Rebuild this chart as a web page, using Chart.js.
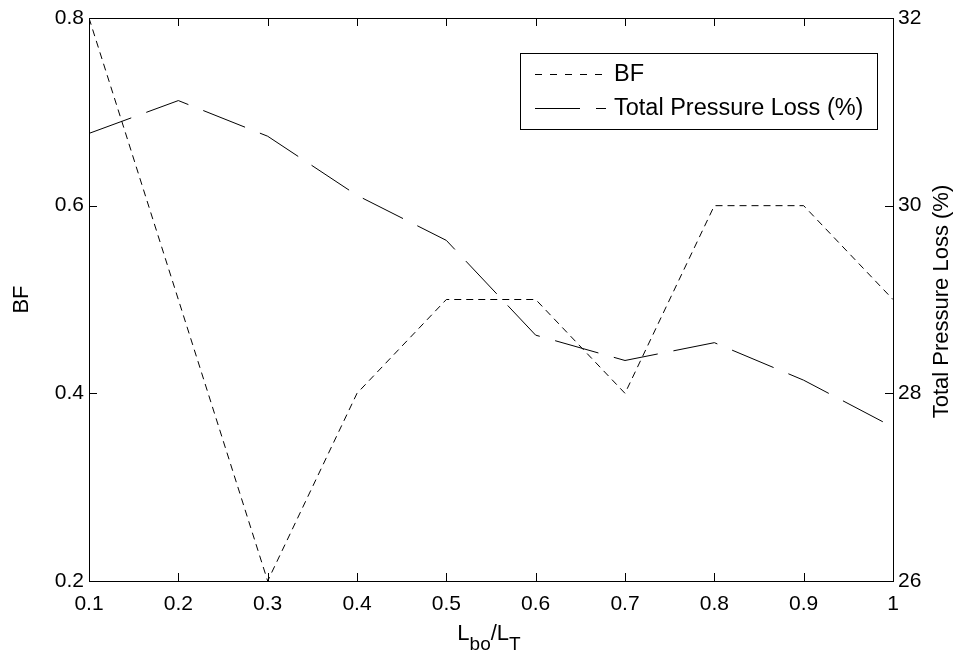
<!DOCTYPE html>
<html><head><meta charset="utf-8">
<script src="https://cdn.jsdelivr.net/npm/chart.js@4/dist/chart.umd.min.js"></script>
<style>html,body{margin:0;padding:0;background:#fff;overflow:hidden}#wrap{width:956px;height:651px;position:relative}</style>
</head><body><div id="wrap"><canvas id="c" width="956" height="651"></canvas></div>
<script>
const xValues = [0.1, 0.2, 0.3, 0.4, 0.5, 0.6, 0.7, 0.8, 0.9, 1.0];
const bfValues = [0.8, 0.5, 0.2, 0.4, 0.5, 0.5, 0.4, 0.6, 0.6, 0.5];
const pressureLoss = [30.77, 31.12, 30.74, 30.11, 29.63, 28.62, 28.35, 28.54, 28.14, 27.64];
const xTicks = [0.1, 0.2, 0.3, 0.4, 0.5, 0.6, 0.7, 0.8, 0.9, 1.0];
const bfTicks = [0.2, 0.4, 0.6, 0.8];
const plTicks = [26, 28, 30, 32];
const seriesNames = ['BF', 'Total Pressure Loss (%)'];
const yLeftTitle = 'BF';
const yRightTitle = 'Total Pressure Loss (%)';

const FONT = '"Liberation Sans", Arial, Helvetica, sans-serif';
const TICK_FONT = 21;
const LABEL_FONT = 22;
const LEGEND_FONT = 23.5;
const BF_DASH = [7, 5];
const PL_DASH = [45, 16];

function setTicks(arr) {
  return function (scale) { scale.ticks = arr.map(v => ({ value: v })); };
}

const decor = {
  id: 'decor',
  afterDatasetsDraw(chart) {
    const ctx = chart.ctx;
    const a = chart.chartArea;
    const xs = chart.scales.x, yl = chart.scales.y, yr = chart.scales.y1;
    ctx.save();
    ctx.strokeStyle = '#000';
    ctx.lineWidth = 1;
    ctx.setLineDash([]);
    // box
    ctx.strokeRect(Math.round(a.left) + 0.5, Math.round(a.top) + 0.5,
      Math.round(a.right - a.left), Math.round(a.bottom - a.top));
    const TL = 8;
    ctx.beginPath();
    xTicks.forEach(v => {
      const px = Math.round(xs.getPixelForValue(v)) + 0.5;
      ctx.moveTo(px, a.bottom); ctx.lineTo(px, a.bottom - TL);
      ctx.moveTo(px, a.top); ctx.lineTo(px, a.top + TL);
    });
    bfTicks.forEach(v => {
      const py = Math.round(yl.getPixelForValue(v)) + 0.5;
      ctx.moveTo(a.left, py); ctx.lineTo(a.left + TL, py);
    });
    plTicks.forEach(v => {
      const py = Math.round(yr.getPixelForValue(v)) + 0.5;
      ctx.moveTo(a.right, py); ctx.lineTo(a.right - TL, py);
    });
    ctx.stroke();

    // axis titles
    ctx.fillStyle = '#000';
    ctx.font = LABEL_FONT + 'px ' + FONT;
    ctx.textAlign = 'center';
    ctx.textBaseline = 'middle';
    ctx.save();
    ctx.translate(22, (a.top + a.bottom) / 2);
    ctx.rotate(-Math.PI / 2);
    ctx.fillText(yLeftTitle, 0, 0);
    ctx.restore();
    ctx.save();
    ctx.translate(942, (a.top + a.bottom) / 2 + 2);
    ctx.rotate(-Math.PI / 2);
    ctx.fillText(yRightTitle, 0, 0);
    ctx.restore();

    // x title L_bo/L_T
    const parts = [['L', false], ['bo', true], ['/', false], ['L', false], ['T', true]];
    const mainF = LABEL_FONT + 'px ' + FONT, subF = '19px ' + FONT;
    let total = 0;
    parts.forEach(p => { ctx.font = p[1] ? subF : mainF; total += ctx.measureText(p[0]).width; });
    let x = (a.left + a.right) / 2 - total / 2 - 2;
    ctx.textAlign = 'left';
    ctx.textBaseline = 'alphabetic';
    parts.forEach(p => {
      ctx.font = p[1] ? subF : mainF;
      ctx.fillText(p[0], x, p[1] ? 650 : 640);
      x += ctx.measureText(p[0]).width;
    });

    // legend
    const lx = 520.5, ly = 53.5, lw = 357, lh = 76;
    ctx.fillStyle = '#fff';
    ctx.fillRect(lx, ly, lw, lh);
    ctx.strokeRect(lx, ly, lw, lh);
    const rows = [[74, [7, 8], 602], [108, PL_DASH, 606]];
    chart.data.datasets.forEach((ds, i) => {
      const yy = rows[i][0] + 0.5;
      ctx.setLineDash(rows[i][1]);
      ctx.beginPath();
      ctx.moveTo(535, yy); ctx.lineTo(rows[i][2], yy);
      ctx.stroke();
      ctx.setLineDash([]);
      ctx.fillStyle = '#000';
      ctx.font = LEGEND_FONT + 'px ' + FONT;
      ctx.textBaseline = 'middle';
      ctx.fillText(ds.label, 614, rows[i][0] + 1);
    });
    ctx.restore();
  }
};

new Chart(document.getElementById('c'), {
  type: 'line',
  data: {
    datasets: [
      {
        label: seriesNames[0],
        data: xValues.map((x, i) => ({ x: x, y: bfValues[i] })),
        yAxisID: 'y',
        borderColor: '#000', borderWidth: 1, borderDash: BF_DASH,
        pointRadius: 0, tension: 0, fill: false
      },
      {
        label: seriesNames[1],
        data: xValues.map((x, i) => ({ x: x, y: pressureLoss[i] })),
        yAxisID: 'y1',
        borderColor: '#000', borderWidth: 1, borderDash: PL_DASH,
        pointRadius: 0, tension: 0, fill: false
      }
    ]
  },
  options: {
    responsive: false,
    animation: false,
    devicePixelRatio: 1,
    layout: { padding: { top: 18, left: 0, right: 0, bottom: 0 } },
    plugins: { legend: { display: false }, title: { display: false }, tooltip: { enabled: false } },
    scales: {
      x: {
        type: 'linear', position: 'bottom', min: 0.1, max: 1,
        afterBuildTicks: setTicks(xTicks),
        afterFit(s) { s.height = 70; },
        grid: { display: false, drawTicks: false },
        border: { display: false },
        ticks: {
          color: '#000', padding: 11, maxRotation: 0, autoSkip: false,
          font: { size: TICK_FONT, family: FONT },
          callback: v => (Math.abs(v - 1) < 1e-9 ? '1' : v.toFixed(1))
        }
      },
      y: {
        type: 'linear', position: 'left', min: 0.2, max: 0.8,
        afterBuildTicks: setTicks(bfTicks),
        afterFit(s) { s.width = 89; },
        grid: { display: false, drawTicks: false },
        border: { display: false },
        ticks: {
          color: '#000', padding: 5, autoSkip: false,
          font: { size: TICK_FONT, family: FONT },
          callback: v => v.toFixed(1)
        }
      },
      y1: {
        type: 'linear', position: 'right', min: 26, max: 32,
        afterBuildTicks: setTicks(plTicks),
        afterFit(s) { s.width = 63; },
        grid: { display: false, drawTicks: false },
        border: { display: false },
        ticks: {
          color: '#000', padding: 5, autoSkip: false,
          font: { size: TICK_FONT, family: FONT },
          callback: v => String(Math.round(v))
        }
      }
    }
  },
  plugins: [decor]
});
</script>
</body></html>
